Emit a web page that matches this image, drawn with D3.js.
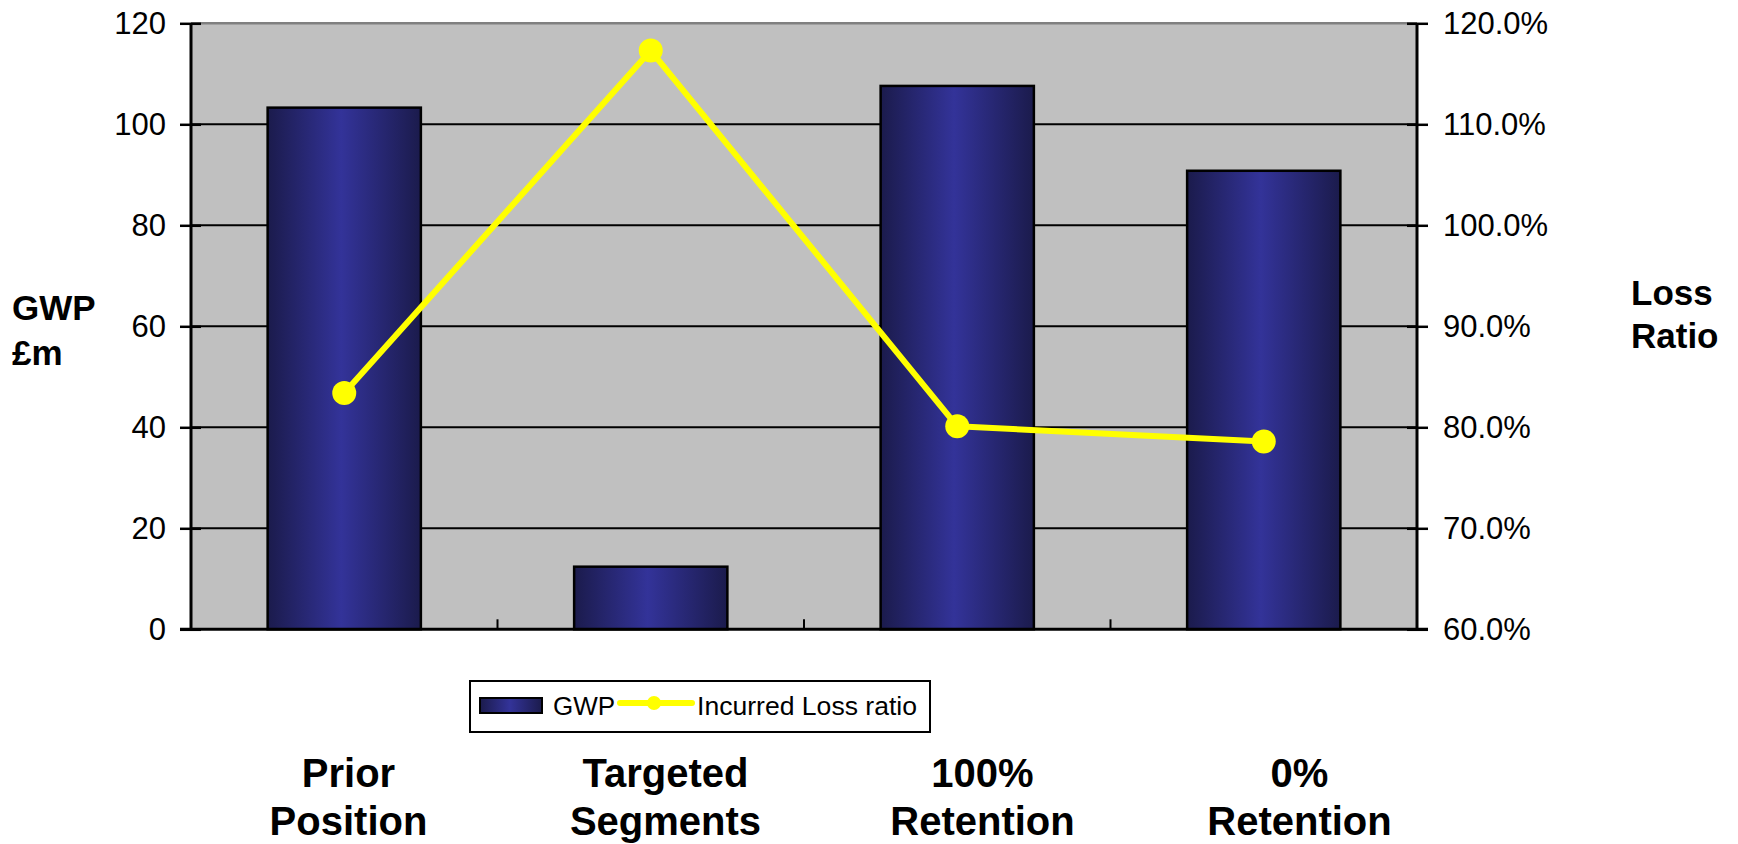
<!DOCTYPE html>
<html>
<head>
<meta charset="utf-8">
<script src="https://cdn.jsdelivr.net/npm/d3@7"></script>
<style>
  html, body { margin: 0; padding: 0; background: #ffffff; }
  svg { display: block; font-family: "Liberation Sans", Arial, sans-serif; }
</style>
</head>
<body>
<svg id="chart" width="1738" height="844"></svg>
<script>
// Scenario data
const categories = [["Prior", "Position"], ["Targeted", "Segments"], ["100%", "Retention"], ["0%", "Retention"]];
const gwp = [103.3, 12.4, 107.6, 90.8];            // GWP £m
const lossRatio = [0.834, 1.173, 0.801, 0.786];    // Incurred loss ratio
const gwpTicks = [0, 20, 40, 60, 80, 100, 120];
const ratioTicks = [0.6, 0.7, 0.8, 0.9, 1.0, 1.1, 1.2];
const seriesNames = ["GWP", "Incurred Loss ratio"];

const svg = d3.select("#chart");
const plot = { left: 191, right: 1417, top: 23.3, bottom: 629.3 };

const keys = categories.map((c, i) => i);
const x = d3.scaleBand().domain(keys).range([plot.left, plot.right])
  .paddingInner(0.5).paddingOuter(0.25);
const xCat = d3.scaleBand().domain(keys).range([plot.left, plot.right]);
const xLabel = d3.scaleBand().domain(keys).range([190, 1458]);
const yL = d3.scaleLinear().domain([0, 120]).range([plot.bottom, plot.top]);
const yR = d3.scaleLinear().domain([0.6, 1.2]).range([plot.bottom, plot.top]);

// Bar gradient
const defs = svg.append("defs");
const grad = defs.append("linearGradient").attr("id", "barGrad")
  .attr("x1", "0%").attr("x2", "100%").attr("y1", "0%").attr("y2", "0%");
grad.append("stop").attr("offset", "0%").attr("stop-color", "#1b1b4c");
grad.append("stop").attr("offset", "48%").attr("stop-color", "#333399");
grad.append("stop").attr("offset", "100%").attr("stop-color", "#1b1b4c");

// Plot background
svg.append("rect")
  .attr("x", plot.left).attr("y", plot.top)
  .attr("width", plot.right - plot.left).attr("height", plot.bottom - plot.top)
  .attr("fill", "#c0c0c0");
svg.append("line")
  .attr("x1", plot.left).attr("x2", plot.right)
  .attr("y1", plot.top).attr("y2", plot.top)
  .attr("stroke", "#808080").attr("stroke-width", 2.5);

// Gridlines
svg.append("g").selectAll("line").data(gwpTicks.filter(d => d > 0 && d < 120)).join("line")
  .attr("x1", plot.left).attr("x2", plot.right)
  .attr("y1", d => yL(d)).attr("y2", d => yL(d))
  .attr("stroke", "#000").attr("stroke-width", 2);

// Bars
svg.append("g").selectAll("rect").data(gwp).join("rect")
  .attr("x", (d, i) => x(i))
  .attr("y", d => yL(d))
  .attr("width", x.bandwidth())
  .attr("height", d => yL(0) - yL(d))
  .attr("fill", "url(#barGrad)")
  .attr("stroke", "#000").attr("stroke-width", 2.5);

// Left axis
const leftAxis = d3.axisLeft(yL).tickValues(gwpTicks).tickSize(11).tickPadding(14);
const gL = svg.append("g").attr("transform", `translate(${plot.left},0)`).call(leftAxis);
gL.select(".domain").remove();
gL.selectAll(".tick line").attr("stroke", "#000").attr("stroke-width", 2.5).attr("x2", -11).attr("x1", 10);
gL.selectAll(".tick text").attr("font-size", 31).attr("fill", "#000").attr("x", -25);

// Right axis
const rightAxis = d3.axisRight(yR).tickValues(ratioTicks).tickFormat(d3.format(".1%")).tickSize(11).tickPadding(14);
const gR = svg.append("g").attr("transform", `translate(${plot.right},0)`).call(rightAxis);
gR.select(".domain").remove();
gR.selectAll(".tick line").attr("stroke", "#000").attr("stroke-width", 2.5).attr("x1", -10).attr("x2", 11);
gR.selectAll(".tick text").attr("font-size", 31).attr("fill", "#000").attr("x", 26);

// Axis lines
svg.append("line").attr("x1", plot.left).attr("x2", plot.left)
  .attr("y1", plot.top).attr("y2", plot.bottom + 1)
  .attr("stroke", "#000").attr("stroke-width", 3);
svg.append("line").attr("x1", plot.right).attr("x2", plot.right)
  .attr("y1", plot.top).attr("y2", plot.bottom + 1)
  .attr("stroke", "#000").attr("stroke-width", 3);
svg.append("line").attr("x1", plot.left - 11).attr("x2", plot.right + 11)
  .attr("y1", plot.bottom).attr("y2", plot.bottom)
  .attr("stroke", "#000").attr("stroke-width", 3);

// Category divider ticks
svg.append("g").selectAll("line").data(keys.slice(1)).join("line")
  .attr("x1", d => xCat(d)).attr("x2", d => xCat(d))
  .attr("y1", plot.bottom).attr("y2", plot.bottom - 10)
  .attr("stroke", "#000").attr("stroke-width", 2);

// Loss ratio line
const cx = i => x(i) + x.bandwidth() / 2;
const line = d3.line().x((d, i) => cx(i)).y(d => yR(d));
svg.append("path").datum(lossRatio)
  .attr("d", line).attr("fill", "none")
  .attr("stroke", "#ffff00").attr("stroke-width", 6).attr("stroke-linejoin", "round");
svg.append("g").selectAll("circle").data(lossRatio).join("circle")
  .attr("cx", (d, i) => cx(i)).attr("cy", d => yR(d)).attr("r", 12)
  .attr("fill", "#ffff00");

// Axis titles
const leftTitle = svg.append("text").attr("font-size", 35).attr("font-weight", "bold").attr("fill", "#000");
leftTitle.append("tspan").attr("x", 12).attr("y", 320).text("GWP");
leftTitle.append("tspan").attr("x", 12).attr("y", 365).text("£m");
const rightTitle = svg.append("text").attr("font-size", 35).attr("font-weight", "bold").attr("fill", "#000");
rightTitle.append("tspan").attr("x", 1631).attr("y", 305).text("Loss");
rightTitle.append("tspan").attr("x", 1631).attr("y", 348).text("Ratio");

// Legend
const lg = svg.append("g");
lg.append("rect").attr("x", 470).attr("y", 681).attr("width", 460).attr("height", 51)
  .attr("fill", "#fff").attr("stroke", "#000").attr("stroke-width", 2);
lg.append("rect").attr("x", 480).attr("y", 698).attr("width", 62).attr("height", 15)
  .attr("fill", "url(#barGrad)").attr("stroke", "#000").attr("stroke-width", 2);
lg.append("text").attr("x", 553).attr("y", 715).attr("font-size", 26).attr("fill", "#000").text(seriesNames[0]);
lg.append("line").attr("x1", 620).attr("x2", 692).attr("y1", 703).attr("y2", 703)
  .attr("stroke", "#ffff00").attr("stroke-width", 6).attr("stroke-linecap", "round");
lg.append("circle").attr("cx", 654).attr("cy", 703).attr("r", 7).attr("fill", "#ffff00");
lg.append("text").attr("x", 697).attr("y", 715).attr("font-size", 26).attr("fill", "#000")
  .attr("textLength", 220).attr("lengthAdjust", "spacingAndGlyphs").text(seriesNames[1]);

// Category labels
const lab = svg.append("g").selectAll("text").data(categories).join("text")
  .attr("text-anchor", "middle").attr("font-size", 40).attr("font-weight", "bold").attr("fill", "#000");
lab.append("tspan").attr("x", (d, i) => xLabel(i) + xLabel.bandwidth() / 2).attr("y", 787).text(d => d[0]);
lab.append("tspan").attr("x", (d, i) => xLabel(i) + xLabel.bandwidth() / 2).attr("y", 835).text(d => d[1]);
</script>
</body>
</html>
